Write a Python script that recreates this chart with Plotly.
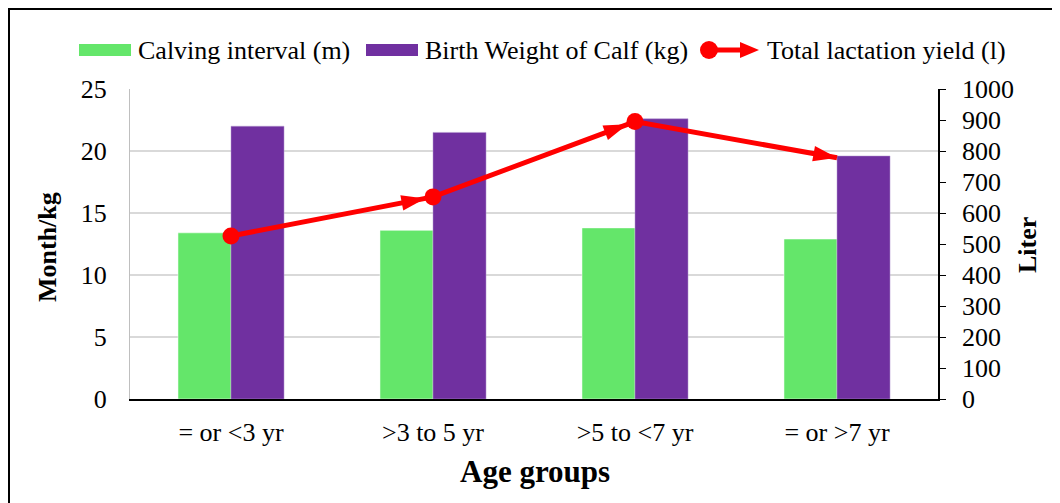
import plotly.graph_objects as go

# data
age_groups = ["= or <3 yr", ">3 to 5 yr", ">5 to <7 yr", "= or >7 yr"]
calving_interval = [13.4, 13.6, 13.8, 12.9]
birth_weight = [22.0, 21.5, 22.6, 19.6]
lactation_yield = [526, 652, 895, 778]

series_names = ["Calving interval (m)", "Birth Weight of Calf (kg)", "Total lactation yield (l)"]

font_family = "Liberation Serif, Times New Roman, serif"
green = "#64E66A"
purple = "#7030A0"
red = "#FF0000"

# the page body adds an 8px offset; positions below are in screenshot pixels
OFF = 8
L, R, T, B = 130, 938, 89, 399


def px(x):
    return (x - L) / (R - L)


def py(y):
    return (B - y) / (B - T)


fig = go.Figure()

fig.add_trace(go.Bar(
    x=age_groups, y=calving_interval, name=series_names[0],
    marker=dict(color=green, line=dict(color="#FFFFFF", width=0.5)),
))
fig.add_trace(go.Bar(
    x=age_groups, y=birth_weight, name=series_names[1],
    marker=dict(color=purple, line=dict(color="#B49AD0", width=0.5)),
))

# line with round dots at the start of each segment
fig.add_trace(go.Scatter(
    x=age_groups, y=lactation_yield, name=series_names[2],
    yaxis="y2", mode="lines+markers",
    line=dict(color=red, width=5),
    marker=dict(color=red, size=[17, 17, 17, 0], symbol="circle", opacity=1,
                line=dict(width=0)),
))
# arrow heads at the end of each segment
fig.add_trace(go.Scatter(
    x=age_groups, y=lactation_yield, yaxis="y2", mode="markers",
    showlegend=False, hoverinfo="skip",
    marker=dict(color=red, size=[0, 25, 25, 25], symbol="arrow", opacity=1,
                line=dict(width=0), angleref="previous", standoff=[0, 8, 8, 0]),
))

# hand-made legend (Excel style: wide swatches, dot-arrow line)
ly = 50
shapes = [
    dict(type="rect", xref="paper", yref="paper",
         x0=px(9), x1=px(1064), y0=py(520), y1=py(9),
         line=dict(color="black", width=2), layer="below"),
    dict(type="rect", xref="paper", yref="paper",
         x0=px(79), x1=px(131), y0=py(ly + 6), y1=py(ly - 6),
         fillcolor=green, line=dict(width=0)),
    dict(type="rect", xref="paper", yref="paper",
         x0=px(366), x1=px(418), y0=py(ly + 6), y1=py(ly - 6),
         fillcolor=purple, line=dict(width=0)),
    dict(type="line", xref="paper", yref="paper",
         x0=px(709), x1=px(745), y0=py(ly), y1=py(ly),
         line=dict(color=red, width=5)),
    dict(type="circle", xref="paper", yref="paper",
         x0=px(700), x1=px(718), y0=py(ly + 9), y1=py(ly - 9),
         fillcolor=red, line=dict(width=0)),
    dict(type="path", xref="paper", yref="paper",
         path=f"M {px(759)},{py(ly)} L {px(740)},{py(ly - 8)} L {px(740)},{py(ly + 8)} Z",
         fillcolor=red, line=dict(width=0)),
]

annotations = []
for x0, name in zip([136, 423, 765], series_names):
    annotations.append(dict(
        text=name, xref="paper", yref="paper", x=px(x0), y=py(ly),
        xanchor="left", yanchor="middle", showarrow=False, font=dict(size=26),
    ))
annotations += [
    dict(text="<b>Month/kg</b>", xref="paper", yref="paper", x=px(47), y=py(247),
         xanchor="center", yanchor="middle", textangle=-90, showarrow=False,
         font=dict(size=26)),
    dict(text="<b>Liter</b>", xref="paper", yref="paper", x=px(1028), y=py(245),
         xanchor="center", yanchor="middle", textangle=-90, showarrow=False,
         font=dict(size=26)),
    dict(text="<b>Age groups</b>", xref="paper", yref="paper", x=px(535), y=py(471),
         xanchor="center", yanchor="middle", showarrow=False, font=dict(size=31)),
]

fig.update_layout(
    width=1060, height=503,
    margin=dict(l=L - OFF, r=1060 - R + OFF, t=T - OFF, b=503 - B + OFF),
    paper_bgcolor="white", plot_bgcolor="white",
    font=dict(family=font_family, size=26, color="black"),
    barmode="group", bargap=0.475, bargroupgap=0,
    showlegend=False,
    xaxis=dict(
        showline=True, linecolor="black", linewidth=1.5, ticks="",
        tickfont=dict(size=26), ticklabelstandoff=9, automargin=False,
    ),
    yaxis=dict(
        range=[0, 25], dtick=5, showgrid=True, gridcolor="#D9D9D9", gridwidth=1.5,
        showline=True, linecolor="#BFBFBF", linewidth=1, ticks="", zeroline=False,
        tickfont=dict(size=26), ticklabelstandoff=17, automargin=False,
    ),
    yaxis2=dict(
        range=[0, 1000], dtick=100, overlaying="y", side="right", showgrid=False,
        showline=True, linecolor="black", linewidth=1.5, ticks="outside", ticklen=6,
        tickcolor="black", zeroline=False, tickfont=dict(size=26),
        ticklabelstandoff=11, automargin=False,
    ),
    shapes=shapes,
    annotations=annotations,
)

fig.write_html("out.html")
